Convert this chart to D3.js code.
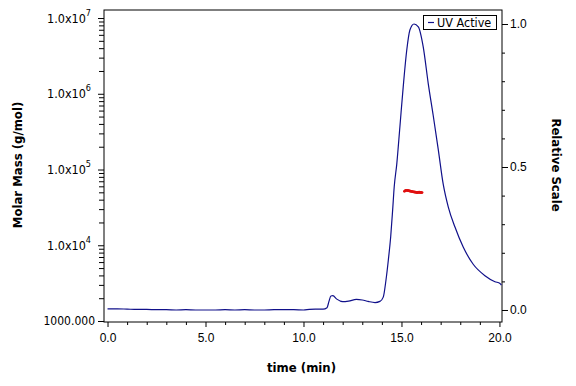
<!DOCTYPE html>
<html><head><meta charset="utf-8">
<script src="https://cdn.jsdelivr.net/npm/d3@7"></script>
<style>
body{margin:0;background:#fff;}
svg{display:block;font-family:"DejaVu Sans Condensed","Noto Sans",sans-serif;}
</style></head><body>
<svg id="chart" width="576" height="386"></svg>
<script>
// ---- data ----
const uvTime = [0,0.5,1.0,1.5,2.0,2.5,3.0,3.5,4.0,4.5,5.0,5.5,6.0,6.5,7.0,7.5,8.0,8.5,9.0,9.5,10.0,10.3,10.6,11.0,11.2,11.3,11.4,11.5,11.7,12.0,12.3,12.7,13.0,13.3,13.65,13.9,14.07,14.21,14.33,14.45,14.55,14.63,14.76,14.92,15.09,15.27,15.43,15.64,15.86,16.11,16.37,16.62,16.88,17.13,17.39,17.73,18.15,18.66,19.26,19.77,20.03,20.1];
const uvValue = [0.004,0.004,0.003,0.002,0.002,0.001,0.001,0.0,0.001,0.0,0.0,0.0,0.001,0.0,0.001,0.0,0.0,0.001,0.001,0.001,0.0,0.002,0.003,0.003,0.008,0.03,0.049,0.05,0.038,0.029,0.031,0.037,0.035,0.03,0.026,0.03,0.045,0.105,0.175,0.256,0.35,0.431,0.51,0.641,0.781,0.909,0.979,1.0,0.99,0.92,0.79,0.68,0.56,0.44,0.36,0.29,0.22,0.16,0.12,0.099,0.093,0.087];
const mmTime = [15.15,15.2,15.25,15.3,15.35,15.4,15.45,15.5,15.55,15.6,15.65,15.7,15.75,15.8,15.85,15.9,15.95,16.0,16.05];
const mmValue = [51500,52800,53200,53000,52600,52200,51800,51500,51200,50800,50500,50300,50000,49700,49900,50100,49800,49700,49600];
const xTicks = [0,5,10,15,20];
const leftTicks = [1000,1e4,1e5,1e6,1e7];
const leftTickLabels = ["1000.000","1.0x10|4","1.0x10|5","1.0x10|6","1.0x10|7"];
const rightTicks = [0,0.5,1.0];
const rightTickLabels = ["0.0","0.5","1.0"];
const seriesName = "UV Active";
const xTitle = "time (min)", leftTitle = "Molar Mass (g/mol)", rightTitle = "Relative Scale";

// ---- layout ----
const L = 104, R = 502, T = 10, B = 322;
const svg = d3.select("#chart");
const x = d3.scaleLinear().domain([-0.18, 20.13]).range([L, R]);
const yL = d3.scaleLog().domain([Math.pow(10, 2.987), Math.pow(10, 7.106)]).range([B, T]);
const yR = d3.scaleLinear().domain([-0.042, 1.049]).range([B, T]);

// frame
svg.append("rect").attr("x", L).attr("y", T).attr("width", R - L).attr("height", B - T)
  .attr("fill", "none").attr("stroke", "#000").attr("stroke-width", 1);

// x axis
const xMinor = d3.range(0, 21, 1).filter(d => d % 5 !== 0);
const gx = svg.append("g").attr("transform", `translate(0,${B})`);
gx.call(d3.axisBottom(x).tickValues(xMinor).tickSize(3).tickFormat(""));
gx.append("g").call(d3.axisBottom(x).tickValues(xTicks).tickSize(5).tickPadding(6).tickFormat(d3.format(".1f")));
gx.selectAll(".domain").remove();
gx.selectAll("text").attr("font-size", 12).attr("fill", "#000").attr("font-family", "inherit");

// left axis
const leftMinor = [];
[1e3, 1e4, 1e5, 1e6].forEach(b => { for (let k = 2; k <= 9; k++) leftMinor.push(b * k); });
const gl = svg.append("g").attr("transform", `translate(${L},0)`);
gl.call(d3.axisLeft(yL).tickValues(leftMinor).tickSize(5).tickFormat(""));
gl.append("g").call(d3.axisLeft(yL).tickValues(leftTicks).tickSize(6).tickFormat(""));
gl.selectAll(".domain").remove();
leftTicks.forEach((v, i) => {
  const parts = leftTickLabels[i].split("|");
  const t = svg.append("text").attr("y", yL(v)).attr("dy", "0.36em")
    .attr("text-anchor", "end").attr("font-size", 12.5).attr("fill", "#000");
  if (parts.length === 1) {
    t.attr("x", L - 9).attr("font-size", 12).text(parts[0]);
  } else {
    t.attr("x", L - 13);
    t.append("tspan").text(parts[0]);
    t.append("tspan").attr("dy", -7).attr("font-size", 9).text(parts[1]);
  }
});

// right axis
const rightMinor = d3.range(0, 11).map(d => d / 10).filter(d => d !== 0 && d !== 0.5 && d !== 1);
const gr = svg.append("g").attr("transform", `translate(${R},0)`);
gr.call(d3.axisRight(yR).tickValues(rightMinor).tickSize(3).tickFormat(""));
gr.append("g").call(d3.axisRight(yR).tickValues(rightTicks).tickSize(6).tickPadding(2)
  .tickFormat((d, i) => rightTickLabels[i]));
gr.selectAll(".domain").remove();
gr.selectAll("text").attr("font-size", 12).attr("fill", "#000").attr("font-family", "inherit");

// UV line
const uvData = uvTime.map((t, i) => ({ t, v: uvValue[i] }));
svg.append("path").datum(uvData)
  .attr("d", d3.line().x(d => x(d.t)).y(d => yR(d.v)).curve(d3.curveMonotoneX))
  .attr("fill", "none").attr("stroke", "#10108a").attr("stroke-width", 1.2);

// molar mass points
const mmData = mmTime.map((t, i) => ({ t, m: mmValue[i] }));
svg.append("path").datum(mmData)
  .attr("d", d3.line().x(d => x(d.t)).y(d => yL(d.m)))
  .attr("fill", "none").attr("stroke", "#e01010").attr("stroke-width", 2.2);
svg.append("g").selectAll("circle").data(mmData).join("circle")
  .attr("cx", d => x(d.t)).attr("cy", d => yL(d.m)).attr("r", 1.4).attr("fill", "#e01010");

// legend
const lg = svg.append("g");
lg.append("rect").attr("x", 423.5).attr("y", 15.5).attr("width", 73).attr("height", 14)
  .attr("fill", "#fff").attr("stroke", "#000").attr("stroke-width", 1);
lg.append("line").attr("x1", 428).attr("x2", 434).attr("y1", 22.5).attr("y2", 22.5)
  .attr("stroke", "#10108a").attr("stroke-width", 1.2);
lg.append("text").attr("x", 437).attr("y", 27).attr("font-size", 12.5).attr("fill", "#000").text(seriesName);

// titles
svg.append("text").attr("x", 301.5).attr("y", 372).attr("text-anchor", "middle")
  .attr("font-size", 13).attr("font-weight", "bold").attr("fill", "#000").text(xTitle);
svg.append("text").attr("transform", "translate(22,165) rotate(-90)").attr("text-anchor", "middle")
  .attr("font-size", 13).attr("font-weight", "bold").attr("fill", "#000").text(leftTitle);
svg.append("text").attr("transform", "translate(552,165) rotate(90)").attr("text-anchor", "middle")
  .attr("font-size", 13).attr("font-weight", "bold").attr("fill", "#000").text(rightTitle);
</script>
</body></html>
